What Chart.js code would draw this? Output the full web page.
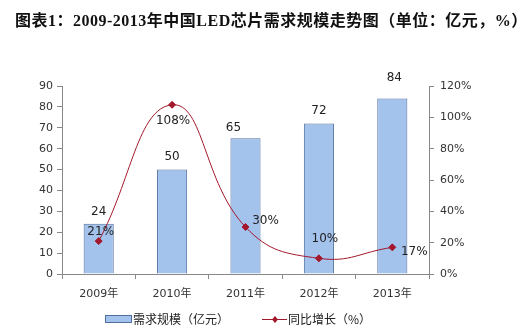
<!DOCTYPE html>
<html>
<head>
<meta charset="utf-8">
<script src="https://cdn.jsdelivr.net/npm/chart.js@4"></script>
<style>
  body { margin: 0; background: #fff; }
  #wrap { position: relative; width: 526px; height: 336px; }
  #title { position: absolute; left: 15px; top: 7px; font: bold 16px "Liberation Serif", "Noto Sans CJK SC", serif; letter-spacing: 0.5px; color: #111; white-space: nowrap; }
</style>
</head>
<body>
<div id="wrap">
  <div id="title">图表1：2009-2013年中国LED芯片需求规模走势图（单位：亿元，%）</div>
  <canvas id="myChart" width="526" height="336"></canvas>
</div>
<script>
var years = ["2009年", "2010年", "2011年", "2012年", "2013年"];
var demand = [24, 50, 65, 72, 84];          // 亿元
var growth = [21, 108, 30, 10, 17];          // %
var demandLabel = "需求规模（亿元）";
var growthLabel = "同比增长（%）";

var tickFont = { family: "'DejaVu Sans', 'Noto Sans CJK SC', sans-serif", size: 11 };
var lineColor = '#a3182c';
var barFill = '#a3c2ec';
var barBorder = '#4f6f9f';

// label placement relative to each point [dx, dy]
var growthLabelShift = [[2, -9], [1, 16], [20, -6], [6, -19], [22, 5]];
var demandLabelShift = [[0, -12], [0, -13], [-12, -10], [0, -13], [2, -21]];

var labelsPlugin = {
    id: 'valueLabels',
    afterDatasetsDraw: function(chart) {
        var c = chart.ctx;
        c.save();
        c.font = "12px 'DejaVu Sans', sans-serif";
        c.fillStyle = '#222';
        c.textAlign = 'center';
        c.textBaseline = 'middle';
        chart.getDatasetMeta(1).data.forEach(function(bar, i) {
            c.fillText(demand[i], bar.x + demandLabelShift[i][0], bar.y + demandLabelShift[i][1]);
        });
        chart.getDatasetMeta(0).data.forEach(function(pt, i) {
            c.fillText(growth[i] + '%', pt.x + growthLabelShift[i][0], pt.y + growthLabelShift[i][1]);
        });
        c.restore();
    },
    afterDraw: function(chart) {
        // legend at the bottom
        var c = chart.ctx;
        var y = 319;
        c.save();
        c.fillStyle = barFill;
        c.strokeStyle = barBorder;
        c.lineWidth = 1;
        c.fillRect(105.5, 315.5, 26, 7);
        c.strokeRect(105.5, 315.5, 26, 7);
        c.font = "12px 'Noto Sans CJK SC', sans-serif";
        c.fillStyle = '#222';
        c.textBaseline = 'middle';
        c.fillText(demandLabel, 133, y);
        c.strokeStyle = lineColor;
        c.beginPath();
        c.moveTo(262, y + 0.5);
        c.lineTo(287, y + 0.5);
        c.stroke();
        c.fillStyle = lineColor;
        c.beginPath();
        c.moveTo(275, y - 3);
        c.lineTo(278, y + 0.5);
        c.lineTo(275, y + 4);
        c.lineTo(272, y + 0.5);
        c.closePath();
        c.fill();
        c.fillStyle = '#222';
        c.fillText(growthLabel, 288, y);
        c.restore();
    }
};

var ctx = document.getElementById('myChart').getContext('2d');
var chart = new Chart(ctx, {
    type: 'bar',
    data: {
        labels: years,
        datasets: [{
            type: 'line',
            label: growthLabel,
            data: growth,
            yAxisID: 'y1',
            borderColor: lineColor,
            borderWidth: 1,
            tension: 0.45,
            pointStyle: 'rectRot',
            pointRadius: 3.5,
            pointBackgroundColor: lineColor,
            pointBorderColor: lineColor,
            order: 0
        }, {
            type: 'bar',
            label: demandLabel,
            data: demand,
            yAxisID: 'y',
            backgroundColor: barFill,
            borderColor: barBorder,
            borderWidth: 1,
            barPercentage: 0.41,
            categoryPercentage: 1,
            order: 1
        }]
    },
    options: {
        responsive: false,
        animation: false,
        layout: { padding: { top: 86, left: 0, right: 0, bottom: 0 } },
        plugins: {
            legend: { display: false },
            tooltip: { enabled: false }
        },
        scales: {
            x: {
                grid: { display: true, drawOnChartArea: false, drawTicks: true, tickLength: 5, color: '#888', offset: true },
                border: { color: '#888' },
                ticks: { font: tickFont, color: '#333', padding: 9 },
                afterFit: function(s) { s.height = 62; }
            },
            y: {
                position: 'left',
                min: 0, max: 90,
                ticks: { stepSize: 10, font: tickFont, color: '#333', padding: 4 },
                grid: { drawOnChartArea: false, drawTicks: true, tickLength: 5, color: '#888' },
                border: { color: '#888' },
                afterFit: function(s) { s.width = 62; }
            },
            y1: {
                position: 'right',
                min: 0, max: 120,
                ticks: { stepSize: 20, font: tickFont, color: '#333', padding: 6,
                    callback: function(v) { return v + '%'; } },
                grid: { drawOnChartArea: false, drawTicks: true, tickLength: 5, color: '#888' },
                border: { color: '#888' },
                afterFit: function(s) { s.width = 97; }
            }
        }
    },
    plugins: [labelsPlugin]
});
</script>
</body>
</html>
